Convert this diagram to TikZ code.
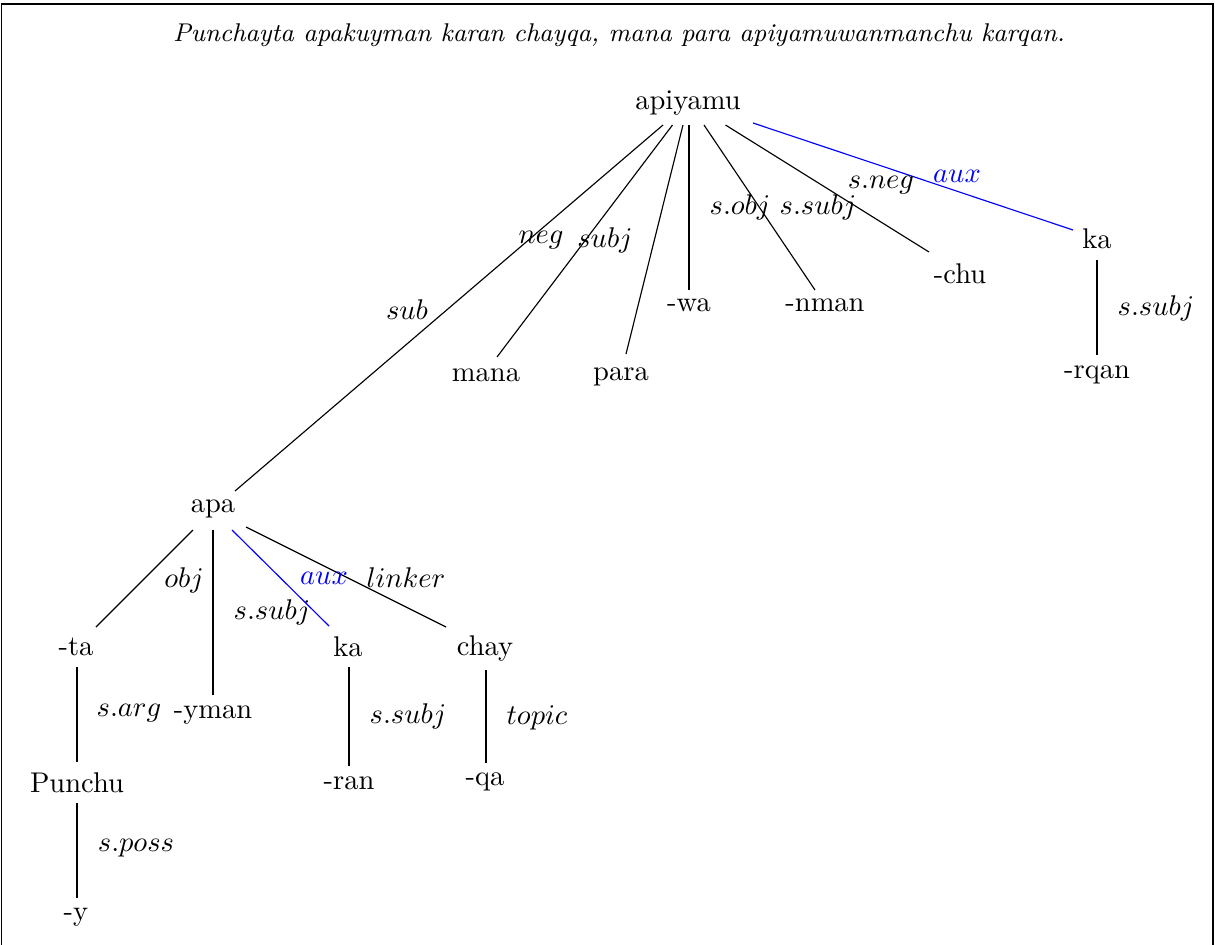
\documentclass[tikz,border=0pt]{standalone}
\usetikzlibrary{calc}
\begin{document}
\begin{tikzpicture}[x=0.3509pt,y=-0.3509pt,
  word/.style={inner sep=0pt,anchor=base},
  lab/.style={inner sep=0pt},
  dep/.style={line width=0.4pt},
  auxdep/.style={dep,blue}]
\useasboundingbox (0,0) rectangle (1215,944);
\draw[line width=0.4pt] (1.5,4) rectangle (1213,970);
\node[inner sep=0pt,font=\small\itshape] (title) at (619,35) {Punchayta apakuyman karan chayqa, mana para apiyamuwanmanchu karqan.};
% words
\node[word] (apiyamu) at (688,109) {apiyamu};
\node[word] (mana) at (486,381) {mana};
\node[word] (para) at (621,380) {para};
\node[word] (wa) at (689,311) {-wa};
\node[word] (nman) at (825,311) {-nman};
\node[word] (chu) at (960,283) {-chu};
\node[word] (kaA) at (1097,248) {ka};
\node[word] (rqan) at (1097,378) {-rqan};
\node[word] (apa) at (213,512) {apa};
\node[word] (ta) at (76,655) {-ta};
\node[word] (yman) at (213,718) {-yman};
\node[word] (kaB) at (348,656) {ka};
\node[word] (chay) at (485,655) {chay};
\node[word] (punchu) at (77,792) {Punchu};
\node[word] (ran) at (349,789) {-ran};
\node[word] (qa) at (485,785) {-qa};
\node[word] (y) at (76,920) {-y};
% edges
\draw[dep] ($(apiyamu.base)+(-25,16)$) -- ($(apa.base)+(22,-21)$);
\draw[dep] ($(apiyamu.base)+(-15.5,16)$) -- ($(mana.base)+(11,-24)$);
\draw[dep] ($(apiyamu.base)+(-5,16)$) -- ($(para.base)+(5,-26)$);
\draw[dep] ($(apiyamu.base)+(1,16)$) -- ($(wa.base)+(0,-21)$);
\draw[dep] ($(apiyamu.base)+(16,16)$) -- ($(nman.base)+(-10,-21)$);
\draw[dep] ($(apiyamu.base)+(37.5,16)$) -- ($(chu.base)+(-31,-31)$);
\draw[auxdep] ($(apiyamu.base)+(65,14)$) -- ($(kaA.base)+(-24,-18)$);
\draw[dep] ($(kaA.base)+(0,12)$) -- ($(rqan.base)+(0,-23)$);
\draw[dep] ($(apa.base)+(-20,18)$) -- ($(ta.base)+(20,-28)$);
\draw[dep] ($(apa.base)+(0,18)$) -- ($(yman.base)+(0,-23)$);
\draw[auxdep] ($(apa.base)+(19,18)$) -- ($(kaB.base)+(-19,-30)$);
\draw[dep] ($(apa.base)+(33,15)$) -- ($(chay.base)+(-39,-28)$);
\draw[dep] ($(ta.base)+(1,12)$) -- ($(punchu.base)+(0,-30)$);
\draw[dep] ($(punchu.base)+(0,11)$) -- ($(y.base)+(1,-22)$);
\draw[dep] ($(kaB.base)+(1,11)$) -- ($(ran.base)+(0,-23)$);
\draw[dep] ($(chay.base)+(1,15)$) -- ($(qa.base)+(1,-22)$);
% labels
\node[lab] (lsub) at (407,310) {$sub$};
\node[lab] (lneg) at (541,240) {$neg$};
\node[lab] (lsubj) at (605,240) {$subj$};
\node[lab] (lsobj) at (740,207) {$s.obj$};
\node[lab] (lssubjA) at (818,207) {$s.subj$};
\node[lab] (lsneg) at (881,185) {$s.neg$};
\node[lab,text=blue] (lauxA) at (957,176) {$aux$};
\node[lab] (lssubjB) at (1156,308) {$s.subj$};
\node[lab] (lobj) at (184,580) {$obj$};
\node[lab,text=blue] (lauxB) at (324,578) {$aux$};
\node[lab] (llinker) at (406,578) {$linker$};
\node[lab] (lssubjC) at (272,612) {$s.subj$};
\node[lab] (lsarg) at (129,713) {$s.arg$};
\node[lab] (ltopic) at (537,718) {$topic$};
\node[lab] (lssubjD) at (408,716) {$s.subj$};
\node[lab] (lsposs) at (136,848) {$s.poss$};
\end{tikzpicture}
\end{document}
